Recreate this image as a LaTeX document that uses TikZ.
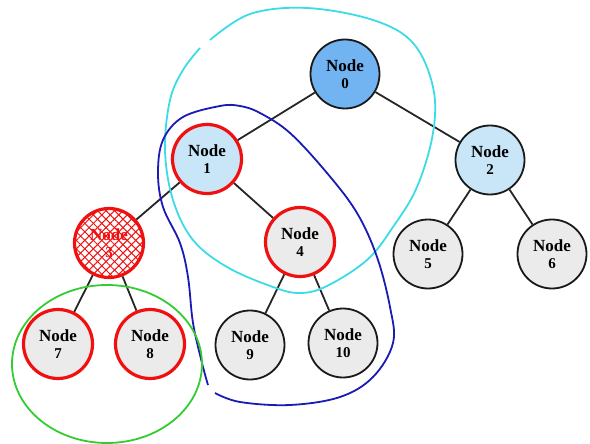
\documentclass[tikz,border=0pt]{standalone}
\usepackage{fontspec}
\setmainfont{Liberation Serif}
\usetikzlibrary{patterns.meta}
\definecolor{nblue}{HTML}{72B4F2}
\definecolor{lblue}{HTML}{C8E6F8}
\definecolor{ngray}{HTML}{EBEBEB}
\definecolor{nred}{HTML}{F01010}
\definecolor{cyanc}{HTML}{3CDCE6}
\definecolor{bluec}{HTML}{1A1AB4}
\definecolor{greenc}{HTML}{33CC33}
\begin{document}
\begin{tikzpicture}[x=1pt,y=-1pt,
  tn/.style={circle, minimum size=69pt, inner sep=0pt, align=center,
    font=\bfseries\fontsize{17}{17}\selectfont, line width=1.8pt, draw=black!90, fill=ngray},
  redb/.style={draw=nred, line width=3.2pt},
  edge/.style={line width=1.8pt, black!85},
  loop/.style={line width=1.8pt}]
\useasboundingbox (0,0) rectangle (590,444);
\newcommand{\nm}[1]{{\fontsize{15}{17}\selectfont #1}}
% nodes
\node[tn, fill=nblue] (n0) at (345,74) {Node\\\nm{0}};
\node[tn, redb, fill=lblue] (n1) at (207,159) {Node\\\nm{1}};
\node[tn, fill=lblue] (n2) at (490,160) {Node\\\nm{2}};
\node[tn, redb, fill=white, text=nred,
  postaction={pattern={Lines[angle=45,distance=6pt,line width=1pt]}, pattern color=nred},
  postaction={pattern={Lines[angle=-45,distance=6pt,line width=1pt]}, pattern color=nred}]
  (n3) at (109,243) {Node\\\nm{3}};
\node[tn, redb] (n4) at (300,242) {Node\\\nm{4}};
\node[tn] (n5) at (428,254) {Node\\\nm{5}};
\node[tn] (n6) at (552,254) {Node\\\nm{6}};
\node[tn, redb] (n7) at (58,344) {Node\\\nm{7}};
\node[tn, redb] (n8) at (150,344) {Node\\\nm{8}};
\node[tn] (n9) at (250,345) {Node\\\nm{9}};
\node[tn] (n10) at (343,343) {Node\\\nm{10}};
% edges
\draw[edge] (n0) -- (n1);
\draw[edge] (n0) -- (n2);
\draw[edge] (n1) -- (n3);
\draw[edge] (n1) -- (n4);
\draw[edge] (n2) -- (n5);
\draw[edge] (n2) -- (n6);
\draw[edge] (n3) -- (n7);
\draw[edge] (n3) -- (n8);
\draw[edge] (n4) -- (n9);
\draw[edge] (n4) -- (n10);
% grouping loops
\draw[loop, cyanc] plot[smooth, tension=0.6] coordinates {
  (210,40) (250,14) (307,8) (373,20) (413,43) (433,87) (433,133) (417,187)
  (393,227) (367,260) (327,286) (300,293) (273,287) (227,267) (193,240)
  (173,200) (165,150) (170,100) (183,70) (200,48)};
\draw[loop, bluec] plot[smooth, tension=0.6] coordinates {
  (215,393) (240,402) (290,405) (340,397) (373,377) (393,343) (390,307)
  (377,257) (357,213) (327,173) (290,133) (260,113) (240,106) (220,106)
  (183,117) (163,140) (158,173) (163,207) (180,243) (188,277) (193,323)
  (202,363) (208,385)};
\draw[loop, greenc] (107,364) ellipse [x radius=95, y radius=79];
\end{tikzpicture}
\end{document}
